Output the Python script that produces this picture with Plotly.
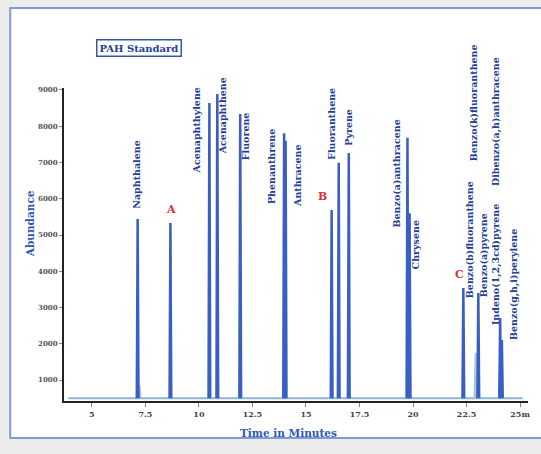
import plotly.graph_objects as go

# Chromatogram peaks: retention time (min) and abundance at apex
peak_times = [7.14, 8.67, 10.49, 10.86, 11.93, 13.98, 14.05, 16.20, 16.53, 17.00,
              19.74, 19.84, 22.35, 23.05, 24.07, 24.15]
peak_heights = [5440, 5330, 8640, 8890, 8340, 7810, 7600, 5690, 6990, 7260,
                7680, 5600, 3540, 3400, 2710, 2100]

# Minor co-eluting responses drawn in a lighter tone
minor_times = [7.20, 19.80, 22.95, 24.10]
minor_heights = [860, 1550, 1750, 1600]

baseline_level = 500

# Compound names and the red group markers
compound_names = ["Naphthalene", "Acenaphthylene", "Acenaphthene", "Fluorene",
                  "Phenanthrene", "Anthracene", "Fluoranthene", "Pyrene",
                  "Benzo(a)anthracene", "Chrysene", "Benzo(k)fluoranthene",
                  "Dibenzo(a,h)anthracene", "Benzo(b)fluoranthene",
                  "Benzo(a)pyrene", "Indeno(1,2,3cd)pyrene", "Benzo(g,h,i)perylene"]
group_markers = ["A", "B", "C"]

y_tick_values = [1000, 2000, 3000, 4000, 5000, 6000, 7000, 8000, 9000]
y_tick_text = ["1000", "2000", "3000", "4000", "5000", "6000", "7000", "8000", "9000"]
x_tick_values = [5, 7.5, 10, 12.5, 15, 17.5, 20, 22.5, 25]
x_tick_text = ["5", "7.5", "10", "12.5", "15", "17.5", "20", "22.5", "25m"]

# label centre positions (time, abundance)
name_pos = [(7.05, 6655), (9.93, 7897), (11.14, 8283), (12.21, 7732),
            (13.42, 6877), (14.58, 6655), (16.21, 8063), (17.0, 7980),
            (19.23, 6684), (20.16, 4725), (22.86, 8642), (23.88, 8118),
            (22.67, 4863), (23.33, 4449), (23.88, 4173), (24.72, 3621)]
marker_pos = [(8.72, 5690), (15.79, 6049), (22.16, 3897)]

X_MIN, X_MAX = 3.70, 25.37
Y_MIN, Y_MAX = 421, 9055
HALF_W = 0.04


def spikes(times, heights, base, hw):
    xs, ys = [], []
    for t, h in zip(times, heights):
        xs += [t - hw, t, t + hw, None]
        ys += [base, h, base, None]
    return xs, ys


fig = go.Figure()

# baseline
fig.add_trace(go.Scatter(x=[X_MIN + 0.2, X_MAX - 0.25], y=[baseline_level, baseline_level],
                         mode="lines", line=dict(color="#8fb4d6", width=2),
                         hoverinfo="skip", showlegend=False))

mx, my = spikes(minor_times, minor_heights, baseline_level, 0.06)
fig.add_trace(go.Scatter(x=mx, y=my, mode="lines", line=dict(color="#a9c7d8", width=3),
                         hoverinfo="skip", showlegend=False))

px_, py_ = spikes(peak_times, peak_heights, baseline_level, HALF_W)
fig.add_trace(go.Scatter(x=px_, y=py_, mode="lines", line=dict(color="#3a5fc4", width=2.5),
                         hoverinfo="skip", showlegend=False))

serif = "DejaVu Serif, serif"
navy = "#233f94"

annotations = []
for name, (t, v) in zip(compound_names, name_pos):
    annotations.append(dict(x=t, y=v, xref="x", yref="y", text="<b>%s</b>" % name,
                            textangle=-90, showarrow=False,
                            xanchor="center", yanchor="middle",
                            font=dict(family=serif, size=9.5, color=navy)))
for m, (t, v) in zip(group_markers, marker_pos):
    annotations.append(dict(x=t, y=v, xref="x", yref="y", text="<b>%s</b>" % m,
                            showarrow=False, xanchor="center", yanchor="middle",
                            font=dict(family=serif, size=11, color="#e0303f")))

L, R, T, B = 64, 530, 88, 401
PW, PH = R - L, B - T


def pxx(x):
    return (x - L) / PW


def pxy(y):
    return (B - y) / PH


annotations += [
    dict(x=pxx(139), y=pxy(48), xref="paper", yref="paper", text="<b>PAH Standard</b>",
         showarrow=False, xanchor="center", yanchor="middle",
         bordercolor="#3556a8", borderwidth=1.5, borderpad=2,
         bgcolor="white", font=dict(family=serif, size=10, color=navy)),
    dict(x=pxx(30), y=pxy(224), xref="paper", yref="paper", text="<b>Abundance</b>",
         textangle=-90, showarrow=False, xanchor="center", yanchor="middle",
         font=dict(family=serif, size=10.5, color="#2d56b8")),
    dict(x=pxx(289), y=pxy(433), xref="paper", yref="paper", text="<b>Time in Minutes</b>",
         showarrow=False, xanchor="center", yanchor="middle",
         font=dict(family=serif, size=10.5, color="#2d56b8")),
]

shapes = [
    dict(type="rect", xref="paper", yref="paper", x0=pxx(10), x1=pxx(548),
         y0=pxy(438), y1=pxy(8), fillcolor="white",
         line=dict(color="#7d9bd6", width=2), layer="below"),
]

fig.update_layout(
    width=541, height=454,
    margin=dict(l=L, r=541 - R, t=T, b=454 - B),
    paper_bgcolor="#ecedea", plot_bgcolor="white",
    showlegend=False,
    annotations=annotations, shapes=shapes,
    xaxis=dict(range=[X_MIN, X_MAX], tickvals=x_tick_values, ticktext=x_tick_text,
               showgrid=False, zeroline=False, showline=True, linecolor="#222",
               linewidth=2, ticks="outside", ticklen=4, tickcolor="#888",
               tickfont=dict(family=serif, size=8, color="#444", weight="bold")),
    yaxis=dict(range=[Y_MIN, Y_MAX], tickvals=y_tick_values, ticktext=y_tick_text,
               showgrid=False, zeroline=False, showline=True, linecolor="#222",
               linewidth=2, ticks="outside", ticklen=3, tickcolor="#888",
               tickfont=dict(family=serif, size=7, color="#555", weight="bold")),
)

fig.write_html("out.html")
